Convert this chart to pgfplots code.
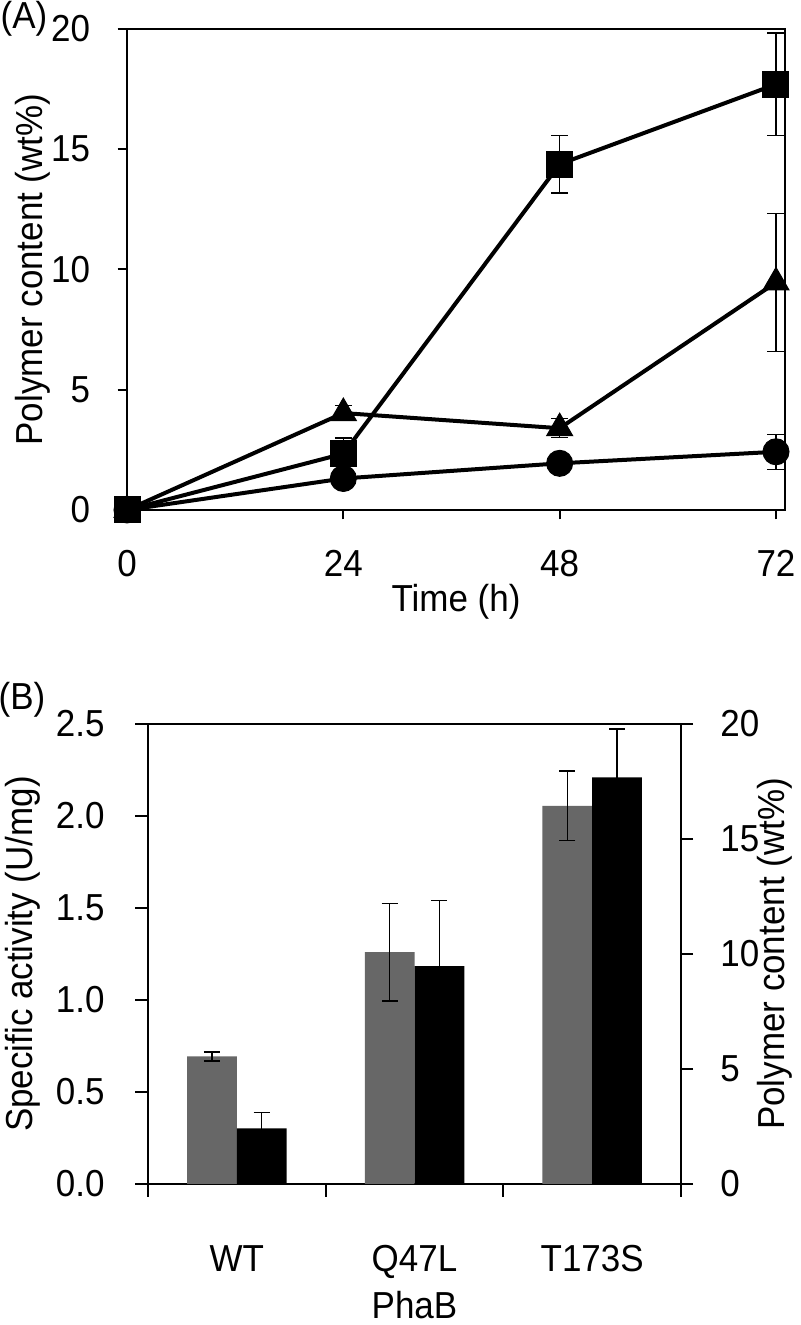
\documentclass[border=0pt]{standalone}
\usepackage{fontspec}
\setmainfont{Liberation Sans}[FakeStretch=0.93]
\usepackage{pgfplots}
\pgfplotsset{compat=1.18}
\definecolor{barg}{RGB}{103,103,103}
\tikzset{myfont/.style={font=\fontsize{18.8}{22}\selectfont}}
\begin{document}
\begin{tikzpicture}
\path[use as bounding box] (0,0) rectangle (400pt,662.5pt);
% ---------------- Panel A ----------------
\begin{axis}[
  at={(63.5pt,407.5pt)}, anchor=south west,
  scale only axis, width=329pt, height=240.5pt,
  xmin=0, xmax=73, ymin=0, ymax=20,
  xtick={0,24,48,72}, ytick={0,5,10,15,20},
  tick align=outside, xtick pos=left, ytick pos=left,
  major tick length=4.75pt,
  axis line style={line width=1pt},
  tick style={line width=1pt, black},
  /pgf/number format/assume math mode=true,
  tick label style={myfont, inner sep=0pt},
  xticklabel style={anchor=north, yshift=-15pt},
  yticklabel style={anchor=east, xshift=-13.5pt},
  label style={myfont},
  xlabel={Time (h)}, ylabel={Polymer content (wt\%)},
  xlabel style={at={(axis description cs:0.5,-0.191)}, anchor=center},
  ylabel style={at={(axis description cs:-0.143,0.5)}, anchor=center},
  clip=false,
]
\addplot[black, line width=2pt, mark=*, mark size=6.5pt, mark options={solid, fill=black, line width=0.5pt},
  error bars/.cd, y dir=both, y explicit,
  error bar style={line width=0.65pt},
  error mark options={rotate=90, mark size=4.25pt, line width=0.65pt}]
  coordinates {(0,0) +- (0,0) (24,1.31) +- (0,0) (48,1.94) +- (0,0) (72,2.42) +- (0,0.73)};
\addplot[black, line width=2pt, mark=triangle*, mark size=7.5pt, mark options={solid, fill=black, line width=0.5pt},
  error bars/.cd, y dir=both, y explicit,
  error bar style={line width=0.65pt},
  error mark options={rotate=90, mark size=4.25pt, line width=0.65pt}]
  coordinates {(0,0) +- (0,0) (24,4.03) +- (0,0.3) (48,3.40) +- (0,0.4) (72,9.46) +- (0,2.86)};
\addplot[black, line width=2pt, mark=square*, mark size=6.5pt, mark options={solid, fill=black, line width=0.5pt},
  error bars/.cd, y dir=both, y explicit,
  error bar style={line width=0.65pt},
  error mark options={rotate=90, mark size=4.25pt, line width=0.65pt}]
  coordinates {(0,0) +- (0,0) (24,2.34) +- (0,0.65) (48,14.38) +- (0,1.2) (72,17.70) +- (0,2.13)};
\end{axis}
% ---------------- Panel B (left axis) ----------------
\begin{axis}[
  at={(74pt,70.5pt)}, anchor=south west,
  scale only axis, width=266.5pt, height=230pt,
  xmin=-0.5, xmax=2.5, ymin=0, ymax=2.5,
  ytick={0,0.5,1,1.5,2,2.5},
  xtick={-0.5,0.5,1.5,2.5}, xticklabels={,,,},
  extra x ticks={0,1,2}, extra x tick labels={WT,Q47L,T173S},
  extra x tick style={tick style={draw=none}},
  tick align=outside, xtick pos=left, ytick pos=left,
  major tick length=6.5pt,
  axis line style={line width=1pt},
  tick style={line width=1pt, black},
  /pgf/number format/assume math mode=true,
  tick label style={myfont, inner sep=0pt},
  xticklabel style={anchor=north, yshift=-24pt},
  yticklabel style={anchor=east, xshift=-15pt, /pgf/number format/.cd, fixed, fixed zerofill, precision=1},
  label style={myfont},
  xlabel={PhaB}, ylabel={Specific activity (U/mg)},
  xlabel style={at={(axis description cs:0.5,-0.263)}, anchor=center},
  ylabel style={at={(axis description cs:-0.2345,0.5)}, anchor=center},
  ybar, bar width=0.28, bar shift=-0.14,
]
\addplot[fill=barg, draw=none,
  error bars/.cd, y dir=both, y explicit,
  error bar style={line width=0.65pt, black},
  error mark options={rotate=90, mark size=4pt, line width=0.65pt, black}]
  coordinates {(0,0.693) +- (0,0.025) (1,1.26) +- (0,0.265) (2,2.055) +- (0,0.19)};
\end{axis}
% ---------------- Panel B (right axis) ----------------
\begin{axis}[
  at={(74pt,70.5pt)}, anchor=south west,
  scale only axis, width=266.5pt, height=230pt,
  xmin=-0.5, xmax=2.5, ymin=0, ymax=20,
  axis y line*=right, axis x line=none,
  ytick={0,5,10,15,20},
  tick align=outside,
  major tick length=6pt,
  axis line style={line width=1pt},
  tick style={line width=1pt, black},
  /pgf/number format/assume math mode=true,
  tick label style={myfont, inner sep=0pt},
  yticklabel style={anchor=west, xshift=13.5pt},
  label style={myfont},
  ylabel={Polymer content (wt\%)},
  ylabel style={at={(axis description cs:1.176,0.5)}, anchor=center},
  ybar, bar width=0.28, bar shift=0.14,
]
\addplot[fill=black, draw=none,
  error bars/.cd, y dir=both, y explicit,
  error bar style={line width=0.65pt, black},
  error mark options={rotate=90, mark size=4pt, line width=0.65pt, black}]
  coordinates {(0,2.42) +- (0,0.70) (1,9.47) +- (0,2.87) (2,17.68) +- (0,2.1)};
\end{axis}
\node[myfont] at (12pt,653pt) {(A)};
\node[myfont] at (11pt,312.5pt) {(B)};
\end{tikzpicture}
\end{document}
